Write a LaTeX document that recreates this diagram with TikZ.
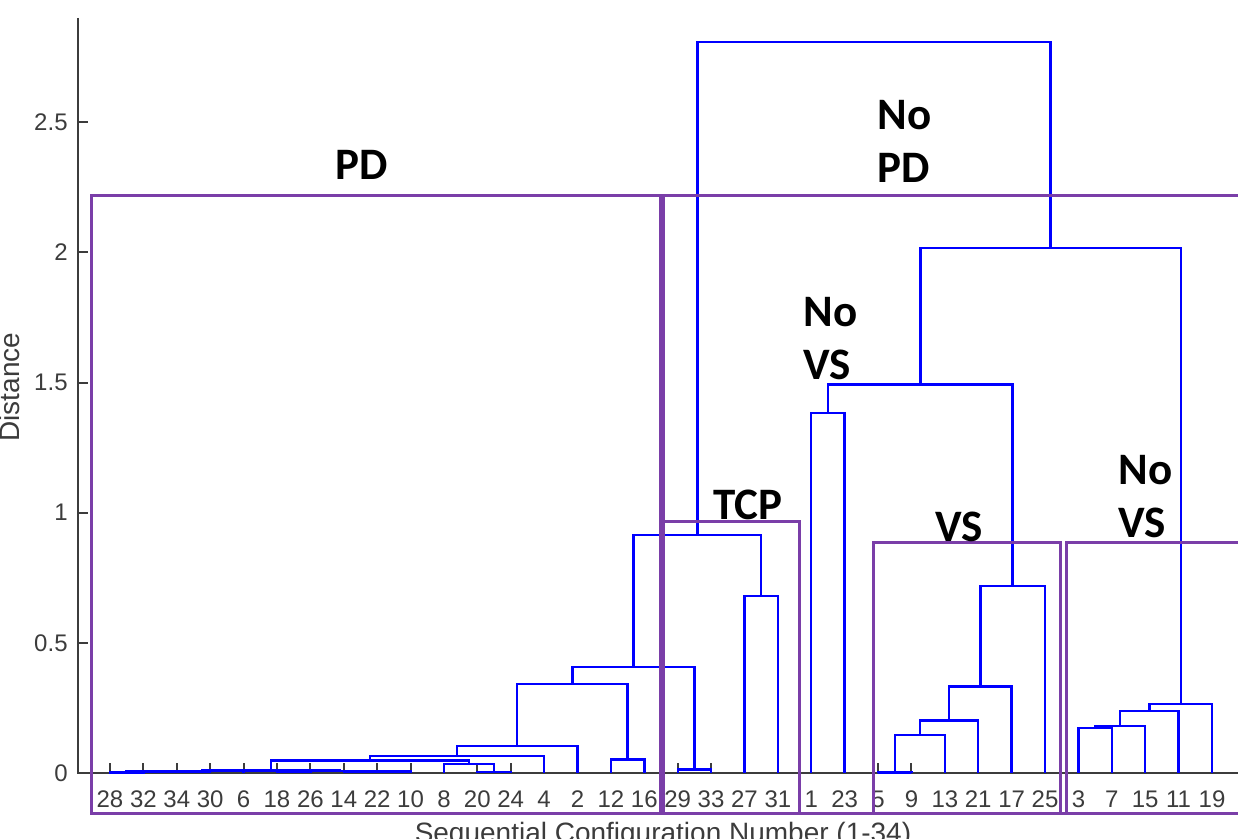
\documentclass[tikz,border=0pt]{standalone}
\usepackage{fontspec}
\setmainfont{Liberation Sans}
\newfontfamily\labelfont{Carlito}
\usetikzlibrary{calc}
\definecolor{dendro}{RGB}{0,0,255}
\definecolor{grp}{RGB}{122,62,168}
\definecolor{axisgray}{RGB}{60,60,60}

% join two clusters: new name, left child, right child, link height (y in px)
\newcommand\joinclusters[4]{%
  \coordinate (#1-m) at ($(#2)!0.5!(#3)$);
  \coordinate (#1) at (#1-m |- 0,#4);
  \draw[link] (#2) |- (#1) -| (#3);
}

\begin{document}
\begin{tikzpicture}[x=0.5pt,y=-0.5pt,
  link/.style={draw=dendro,line width=1.2pt},
  grpbox/.style={draw=grp,line width=1.5pt},
  axisline/.style={draw=axisgray,line width=1pt},
  ticklab/.style={text=axisgray,font=\fontsize{12}{14}\selectfont,inner sep=0pt},
  axislab/.style={text=axisgray,font=\fontsize{14}{16}\selectfont,inner sep=0pt},
  grplabel/.style={font=\labelfont\bfseries\fontsize{22.5}{26.5}\selectfont,inner sep=0pt,anchor=north west,align=left}]
\useasboundingbox (0,0) rectangle (1238,839);

% axes
\draw[axisline] (78,18) -- (78,773) -- (1250,773);
\foreach \v in {0,0.5,1,1.5,2,2.5}{
  \pgfmathsetmacro\yy{773-\v*260.3}
  \draw[axisline] (78,\yy) -- (88,\yy);
  \node[ticklab,anchor=east] (ytick\v) at (68,\yy) {\v};
}
\node[axislab,rotate=90,anchor=base] (ylab) at (19.5,387) {Distance};
\node[axislab,anchor=base] (xlab) at (663,842) {Sequential Configuration Number (1-34)};

% leaves
\foreach \lab [count=\i] in {28,32,34,30,6,18,26,14,22,10,8,20,24,4,2,12,16,29,33,27,31,1,23,5,9,13,21,17,25,3,7,15,11,19}{
  \coordinate (L\i) at ({110+(\i-1)*33.394},773);
  \draw[axisline] (L\i) -- ++(0,-10);
  \node[ticklab,anchor=base] (lab\i) at (L\i |- 0,807) {\lab};
}

% PD branch
\joinclusters{a}{L1}{L2}{772.5}
\joinclusters{b}{L3}{L4}{772.0}
\joinclusters{c}{a}{b}{771.6}
\joinclusters{d}{c}{L5}{771.2}
\joinclusters{e}{L6}{L7}{772.0}
\joinclusters{f}{L8}{L9}{772.0}
\joinclusters{g}{f}{L10}{771.5}
\joinclusters{hh}{e}{g}{771.0}
\joinclusters{r10}{d}{hh}{770.6}
\joinclusters{m20}{L12}{L13}{772}
\joinclusters{m8}{L11}{m20}{764}
\joinclusters{C}{r10}{m8}{760.5}
\joinclusters{B}{C}{L14}{756}
\joinclusters{A}{B}{L15}{746}
\joinclusters{m12}{L16}{L17}{759.5}
\joinclusters{D}{A}{m12}{684}
\joinclusters{m29}{L18}{L19}{769.5}
\joinclusters{E}{D}{m29}{667}
\joinclusters{m27}{L20}{L21}{596}
\joinclusters{F}{E}{m27}{535}

% No PD branch
\joinclusters{m1}{L22}{L23}{413.3}
\joinclusters{v5}{L24}{L25}{772.3}
\joinclusters{v13}{v5}{L26}{735}
\joinclusters{v21}{v13}{L27}{720.5}
\joinclusters{v17}{v21}{L28}{686.7}
\joinclusters{VS}{v17}{L29}{586}
\joinclusters{G}{m1}{VS}{384.5}
\joinclusters{n3}{L30}{L31}{727.7}
\joinclusters{n15}{n3}{L32}{725.7}
\joinclusters{n11}{n15}{L33}{711}
\joinclusters{n19}{n11}{L34}{703.7}
\joinclusters{H}{G}{n19}{248}
\joinclusters{top}{F}{H}{42}

% group boxes
\draw[grpbox] (91,196) rectangle (660,813);
\draw[grpbox] (663,196) rectangle (1250,813);
\draw[grpbox] (663,522) rectangle (799,813);
\draw[grpbox] (873,543) rectangle (1060,813);
\draw[grpbox] (1066,543) rectangle (1250,813);

% group labels
\node[grplabel] (tPD) at (335,150) {PD};
\node[grplabel] (tNoPD) at (877,100) {No\\PD};
\node[grplabel] (tNoVSa) at (803,297) {No\\VS};
\node[grplabel] (tTCP) at (713,490) {TCP};
\node[grplabel] (tVS) at (935,512) {VS};
\node[grplabel] (tNoVSb) at (1118,455) {No\\VS};
\end{tikzpicture}
\end{document}
